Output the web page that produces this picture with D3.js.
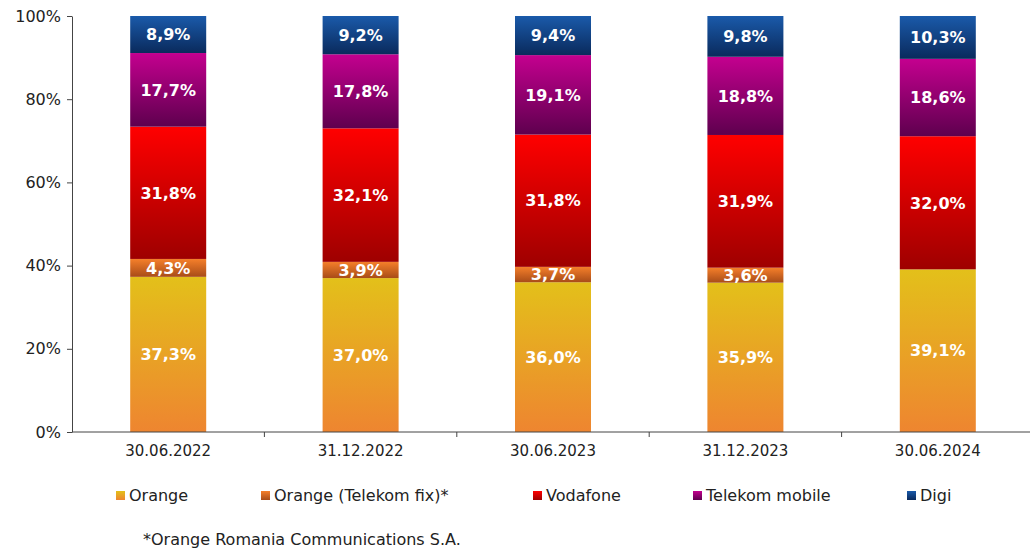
<!DOCTYPE html>
<html>
<head>
<meta charset="utf-8">
<script src="https://cdn.jsdelivr.net/npm/d3@7"></script>
<style>
  body { margin: 0; background: #fff; }
  svg { display: block; font-family: "DejaVu Sans", Verdana, sans-serif; }
  .axis text { font-family: "DejaVu Sans", Verdana, sans-serif; font-size: 15px; fill: #222; }
  .axis.yax text { font-size: 16px; }
  .axis path, .axis line { stroke: #444; }
  .lbl { font-size: 16px; font-weight: bold; fill: #fff; }
  .leg { font-size: 16px; fill: #222; }
</style>
</head>
<body>
<svg id="svg" width="1030" height="552"></svg>
<script>
const dates = ['30.06.2022', '31.12.2022', '30.06.2023', '31.12.2023', '30.06.2024'];
const seriesNames = ['Orange', 'Orange (Telekom fix)*', 'Vodafone', 'Telekom mobile', 'Digi'];
const orange     = [37.3, 37.0, 36.0, 35.9, 39.1];
const telekomFix = [4.3, 3.9, 3.7, 3.6, 0];
const vodafone   = [31.8, 32.1, 31.8, 31.9, 32.0];
const telekomMob = [17.7, 17.8, 19.1, 18.8, 18.6];
const digi       = [8.9, 9.2, 9.4, 9.8, 10.3];
const yTicks = [0, 20, 40, 60, 80, 100];

const values = [orange, telekomFix, vodafone, telekomMob, digi];
// gradient top / bottom per series
const grads = [
  ['#e3c01a', '#ee8530'],
  ['#f57f2a', '#a84c18'],
  ['#ff0000', '#9e0000'],
  ['#c4008f', '#5e004e'],
  ['#1a5aaa', '#0a2a5c']
];

const svg = d3.select('#svg');
const m = { top: 16, left: 72, bottom: 432, right: 1034 };

const band = d3.scaleBand().domain(dates).range([m.left, m.right]);
const y = d3.scaleLinear().domain([0, 100]).range([m.bottom, m.top]);

const defs = svg.append('defs');
grads.forEach((g, i) => {
  const lg = defs.append('linearGradient').attr('id', 'g' + i)
    .attr('x1', 0).attr('y1', 0).attr('x2', 0).attr('y2', 1);
  lg.append('stop').attr('offset', '0%').attr('stop-color', g[0]);
  lg.append('stop').attr('offset', '100%').attr('stop-color', g[1]);
});

const rows = dates.map((d, j) => {
  const r = { date: d };
  seriesNames.forEach((s, i) => r[s] = values[i][j]);
  return r;
});
const stack = d3.stack().keys(seriesNames)(rows);

const bw = 76;
stack.forEach((layer, i) => {
  const g = svg.append('g');
  layer.forEach(seg => {
    const v = seg[1] - seg[0];
    if (v <= 0) return;
    const cx = band(seg.data.date) + band.bandwidth() / 2;
    g.append('rect')
      .attr('x', cx - bw / 2).attr('width', bw)
      .attr('y', y(seg[1])).attr('height', y(seg[0]) - y(seg[1]))
      .attr('fill', `url(#g${i})`);
    g.append('text').attr('class', 'lbl')
      .attr('x', cx).attr('y', (y(seg[0]) + y(seg[1])) / 2)
      .attr('text-anchor', 'middle').attr('dy', '0.36em')
      .text(v.toFixed(1).replace('.', ',') + '%');
  });
});

// y axis
svg.append('g').attr('class', 'axis yax')
  .attr('transform', `translate(${m.left},0)`)
  .call(d3.axisLeft(y).tickValues(yTicks).tickSize(5).tickSizeOuter(0).tickPadding(6).tickFormat(d => d + '%'));

// x axis
const xa = svg.append('g').attr('class', 'axis').attr('transform', `translate(0,${m.bottom})`);
xa.append('line').attr('x1', m.left).attr('x2', 1030).attr('stroke', '#444');
dates.forEach(d => {
  const bx = band(d) + band.bandwidth();
  xa.append('line').attr('x1', bx).attr('x2', bx).attr('y1', 0).attr('y2', 5).attr('stroke', '#444');
  xa.append('text').attr('x', band(d) + band.bandwidth() / 2).attr('y', 24)
    .attr('text-anchor', 'middle').text(d);
});

// legend
const legX = [116, 261, 533, 693, 907];
const leg = svg.append('g');
seriesNames.forEach((s, i) => {
  leg.append('rect').attr('x', legX[i]).attr('y', 491).attr('width', 9).attr('height', 9)
    .attr('fill', `url(#g${i})`);
  leg.append('text').attr('class', 'leg').attr('x', legX[i] + 13).attr('y', 501).text(s);
});
svg.append('text').attr('class', 'leg').attr('x', 143).attr('y', 545).text('*Orange Romania Communications S.A.');
</script>
</body>
</html>
